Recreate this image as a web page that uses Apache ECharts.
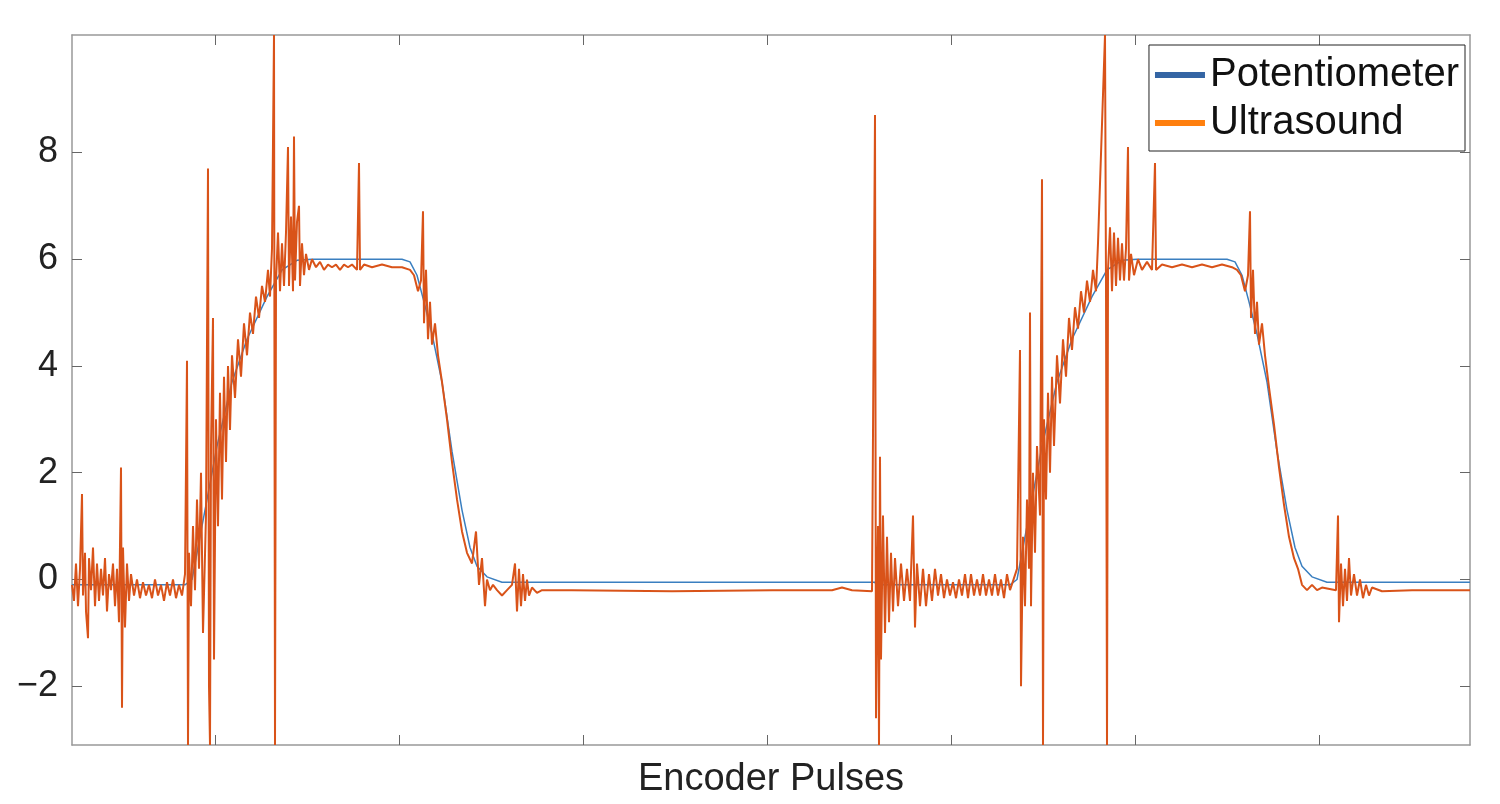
<!DOCTYPE html>
<html>
<head>
<meta charset="utf-8">
<script src="https://cdn.jsdelivr.net/npm/echarts@6/dist/echarts.min.js"></script>
<style>html,body{margin:0;padding:0;background:#fff}#main{width:1500px;height:804px}</style>
</head>
<body>
<div id="main"></div>
<script>
// tick positions (encoder pulses) and y tick labels
var xTicks = [143, 327, 511, 695, 879, 1063, 1247];
var yTicks = [-2, 0, 2, 4, 6, 8];

// potentiometer reading
var potentiometer = [
  [0,-0.1],[113,-0.1],[120,0.0],[130,1.0],[145,2.5],[160,3.7],[175,4.5],[195,5.3],[210,5.8],[225,5.98],[240,6.0],
  [330,6.0],[338,5.95],[345,5.7],[352,5.2],[360,4.6],[370,3.7],[380,2.4],[390,1.3],[398,0.6],[405,0.25],[415,0.05],
  [430,-0.05],[803,-0.05],[804,-0.1],[938,-0.1],[945,0.0],[955,1.0],[970,2.5],[985,3.7],[1000,4.5],[1020,5.3],
  [1035,5.8],[1050,5.98],[1065,6.0],[1155,6.0],[1163,5.95],[1170,5.7],[1177,5.2],[1185,4.6],[1195,3.7],[1205,2.4],
  [1215,1.3],[1223,0.6],[1230,0.25],[1240,0.05],[1255,-0.05],[1398,-0.05]
];

// ultrasound reading
var ultrasound = [
  [0,-0.1],[2,-0.4],[4,0.3],[6,-0.5],[8,0.2],[10,1.6],[11,-0.3],[13,0.5],[14,-0.6],[16,-1.1],[17,0.4],[19,-0.2],
  [21,0.6],[23,-0.5],[25,0.3],[27,-0.4],[29,0.2],[31,-0.3],[33,0.4],[35,-0.6],[37,0.1],[39,-0.2],[41,0.3],[43,-0.5],
  [45,0.2],[47,-0.8],[49,2.1],[50,-2.4],[51,0.6],[53,-0.9],[55,0.3],[57,-0.4],[59,0.1],[62,-0.3],[65,0.0],[68,-0.35],
  [71,-0.05],[74,-0.3],[77,-0.1],[80,-0.35],[83,0.0],[86,-0.3],[89,-0.1],[92,-0.4],[95,-0.05],[98,-0.3],[101,0.0],
  [104,-0.35],[107,-0.1],[110,-0.3],[113,0.1],
  [115,4.1],[116,-3.1],[117,0.5],[119,-0.5],[121,1.0],[123,-0.2],[125,1.5],[127,0.2],[129,2.0],[131,-1.0],[134,1.2],
  [136,7.7],[137,-2.0],[138,-3.1],[139,2.5],[141,4.9],[142,-1.5],[144,3.0],[146,1.0],[148,3.5],[150,1.5],[152,3.8],
  [154,2.2],[156,4.0],[158,2.8],[160,4.2],[163,3.4],[166,4.5],[169,3.8],[172,4.8],[175,4.2],[178,5.0],[181,4.6],
  [184,5.3],[187,4.9],[190,5.5],[193,5.2],[196,5.8],[198,5.3],[200,6.2],[202,10.2],[203,-3.1],[204,5.6],[206,6.5],
  [208,5.4],[210,6.3],[212,5.5],[214,6.5],[216,8.1],[217,5.5],[219,6.8],[221,5.4],[222,8.3],[223,5.6],[225,6.7],
  [227,7.0],[228,5.5],[230,6.3],[232,5.7],[234,6.1],[237,5.8],[240,6.0],[244,5.85],[248,5.95],[252,5.8],[256,5.9],
  [260,5.85],[264,5.9],[268,5.8],[272,5.9],[276,5.85],[280,5.9],[285,5.8],[287,7.8],[288,5.8],[292,5.9],[300,5.85],
  [310,5.9],[320,5.85],[330,5.85],[338,5.8],[342,5.7],[346,5.4],[349,5.6],[351,6.9],[352,4.8],[354,5.8],[356,4.5],
  [358,5.2],[360,4.4],[363,4.8],[366,4.2],[370,3.7],[375,3.0],[380,2.2],[385,1.5],[390,0.9],[395,0.5],[400,0.3],
  [404,0.9],[407,-0.1],[410,0.4],[413,-0.5],[415,0.0],[418,-0.2],[421,-0.1],[425,-0.2],[430,-0.3],[435,-0.2],
  [440,-0.1],[443,0.3],[445,-0.6],[447,0.2],[449,-0.5],[451,0.1],[453,-0.4],[455,0.0],[457,-0.3],[460,-0.15],
  [465,-0.25],[470,-0.2],[500,-0.2],[600,-0.22],[700,-0.2],[760,-0.2],[770,-0.15],[780,-0.2],[800,-0.22],
  [803,8.7],[804,-2.6],[805,-0.5],[806,1.0],[807,-3.1],[808,2.3],[809,-1.5],[811,1.2],[813,-1.0],[815,0.8],
  [817,-0.8],[819,0.5],[821,-0.6],[823,0.4],[826,-0.5],[829,0.3],[832,-0.4],[835,0.2],[838,-0.4],[841,1.2],
  [843,-0.9],[845,0.3],[848,-0.5],[851,0.2],[854,-0.5],[857,0.1],[860,-0.4],[863,0.2],[866,-0.3],[869,0.1],
  [872,-0.35],[875,0.0],[878,-0.3],[881,-0.05],[884,-0.35],[887,0.0],[890,-0.3],[893,0.1],[896,-0.35],[899,0.1],
  [902,-0.3],[905,0.0],[908,-0.3],[911,0.1],[914,-0.3],[917,0.0],[920,-0.3],[923,0.1],[926,-0.3],[929,0.0],
  [932,-0.35],[935,0.1],[938,-0.2],
  [945,0.2],[948,4.3],[949,-2.0],[951,0.8],[953,-0.5],[955,1.5],[957,0.2],[958,5.0],[959,-0.5],[961,2.0],[963,0.5],
  [965,2.5],[968,1.2],[970,7.5],[971,-3.1],[972,3.0],[974,1.5],[976,3.5],[978,2.0],[980,3.8],[982,2.5],[985,4.2],
  [988,3.3],[991,4.5],[994,3.8],[997,4.9],[1000,4.3],[1003,5.1],[1006,4.7],[1009,5.4],[1012,5.0],[1015,5.6],
  [1018,5.2],[1021,5.8],[1024,5.4],[1026,6.3],[1033,10.2],[1034,5.5],[1035,-3.1],[1036,5.8],[1038,6.6],[1040,5.4],
  [1042,6.5],[1044,5.5],[1046,6.4],[1048,5.6],[1050,6.3],[1052,5.6],[1054,6.2],[1056,8.1],[1057,5.6],[1059,6.1],
  [1062,5.7],[1066,6.0],[1070,5.8],[1075,5.95],[1080,5.8],[1083,7.8],[1084,5.8],[1090,5.9],[1100,5.85],[1110,5.9],
  [1120,5.85],[1130,5.9],[1140,5.85],[1150,5.9],[1160,5.85],[1165,5.8],[1169,5.7],[1173,5.4],[1176,5.7],[1178,6.9],
  [1179,4.9],[1181,5.8],[1183,4.6],[1185,5.2],[1187,4.4],[1190,4.8],[1193,4.2],[1197,3.6],[1202,2.9],[1207,2.1],
  [1212,1.4],[1217,0.8],[1222,0.4],[1226,0.2],[1230,-0.1],[1235,-0.2],[1240,-0.1],[1245,-0.2],[1250,-0.15],
  [1264,-0.2],[1266,1.2],[1267,-0.8],[1269,0.3],[1271,-0.5],[1273,0.2],[1275,-0.4],[1277,0.4],[1279,-0.3],
  [1282,0.1],[1285,-0.3],[1288,0.0],[1291,-0.35],[1294,-0.1],[1297,-0.3],[1300,-0.15],[1310,-0.22],[1340,-0.2],
  [1398,-0.2]
];

var chart = echarts.init(document.getElementById('main'));
var frame = {show: true, onZero: false, lineStyle: {color: '#999', width: 1.5}};
var tick = {show: true, inside: true, length: 10, lineStyle: {color: '#666'}};
var option = {
  animation: false,
  grid: {left: 72, right: 30, top: 35, bottom: 46},
  legend: {
    right: 35, top: 45,
    orient: 'vertical',
    backgroundColor: '#fff',
    borderColor: '#222', borderWidth: 1,
    padding: [10, 6, 8, 6],
    itemGap: 8,
    itemWidth: 50, itemHeight: 6,
    textStyle: {fontSize: 40, color: '#111', fontFamily: 'Liberation Sans'},
    data: [
      {name: 'Potentiometer', icon: 'rect', itemStyle: {color: '#3465a4'}},
      {name: 'Ultrasound', icon: 'rect', itemStyle: {color: '#ff7f0e'}}
    ]
  },
  xAxis: [{
    type: 'value', min: 0, max: 1398,
    name: 'Encoder Pulses', nameLocation: 'middle', nameGap: 16,
    nameTextStyle: {fontSize: 38, color: '#222', fontFamily: 'Liberation Sans'},
    axisLine: frame, splitLine: {show: false},
    axisTick: Object.assign({customValues: xTicks}, tick),
    axisLabel: {show: false}
  }, {
    type: 'value', min: 0, max: 1398, position: 'top',
    axisLine: frame, splitLine: {show: false},
    axisTick: Object.assign({customValues: xTicks}, tick),
    axisLabel: {show: false}
  }],
  yAxis: [{
    type: 'value', min: -3.1, max: 10.2,
    axisLine: frame, splitLine: {show: false},
    axisTick: Object.assign({customValues: yTicks}, tick),
    axisLabel: {
      customValues: yTicks, fontSize: 36, color: '#222', margin: 14, fontFamily: 'Liberation Sans',
      formatter: function (v) { return String(v).replace('-', '\u2212'); }
    }
  }, {
    type: 'value', min: -3.1, max: 10.2, position: 'right',
    axisLine: frame, splitLine: {show: false},
    axisTick: Object.assign({customValues: yTicks}, tick),
    axisLabel: {show: false}
  }],
  series: [{
    name: 'Potentiometer', type: 'line', data: potentiometer,
    showSymbol: false, symbol: 'none',
    lineStyle: {color: '#3a7fc0', width: 1.5}, itemStyle: {color: '#3465a4'}
  }, {
    name: 'Ultrasound', type: 'line', data: ultrasound,
    showSymbol: false, symbol: 'none',
    lineStyle: {color: '#d95319', width: 2}, itemStyle: {color: '#ff7f0e'}
  }]
};
chart.setOption(option);
window.onresize = chart.resize;
</script>
</body>
</html>
